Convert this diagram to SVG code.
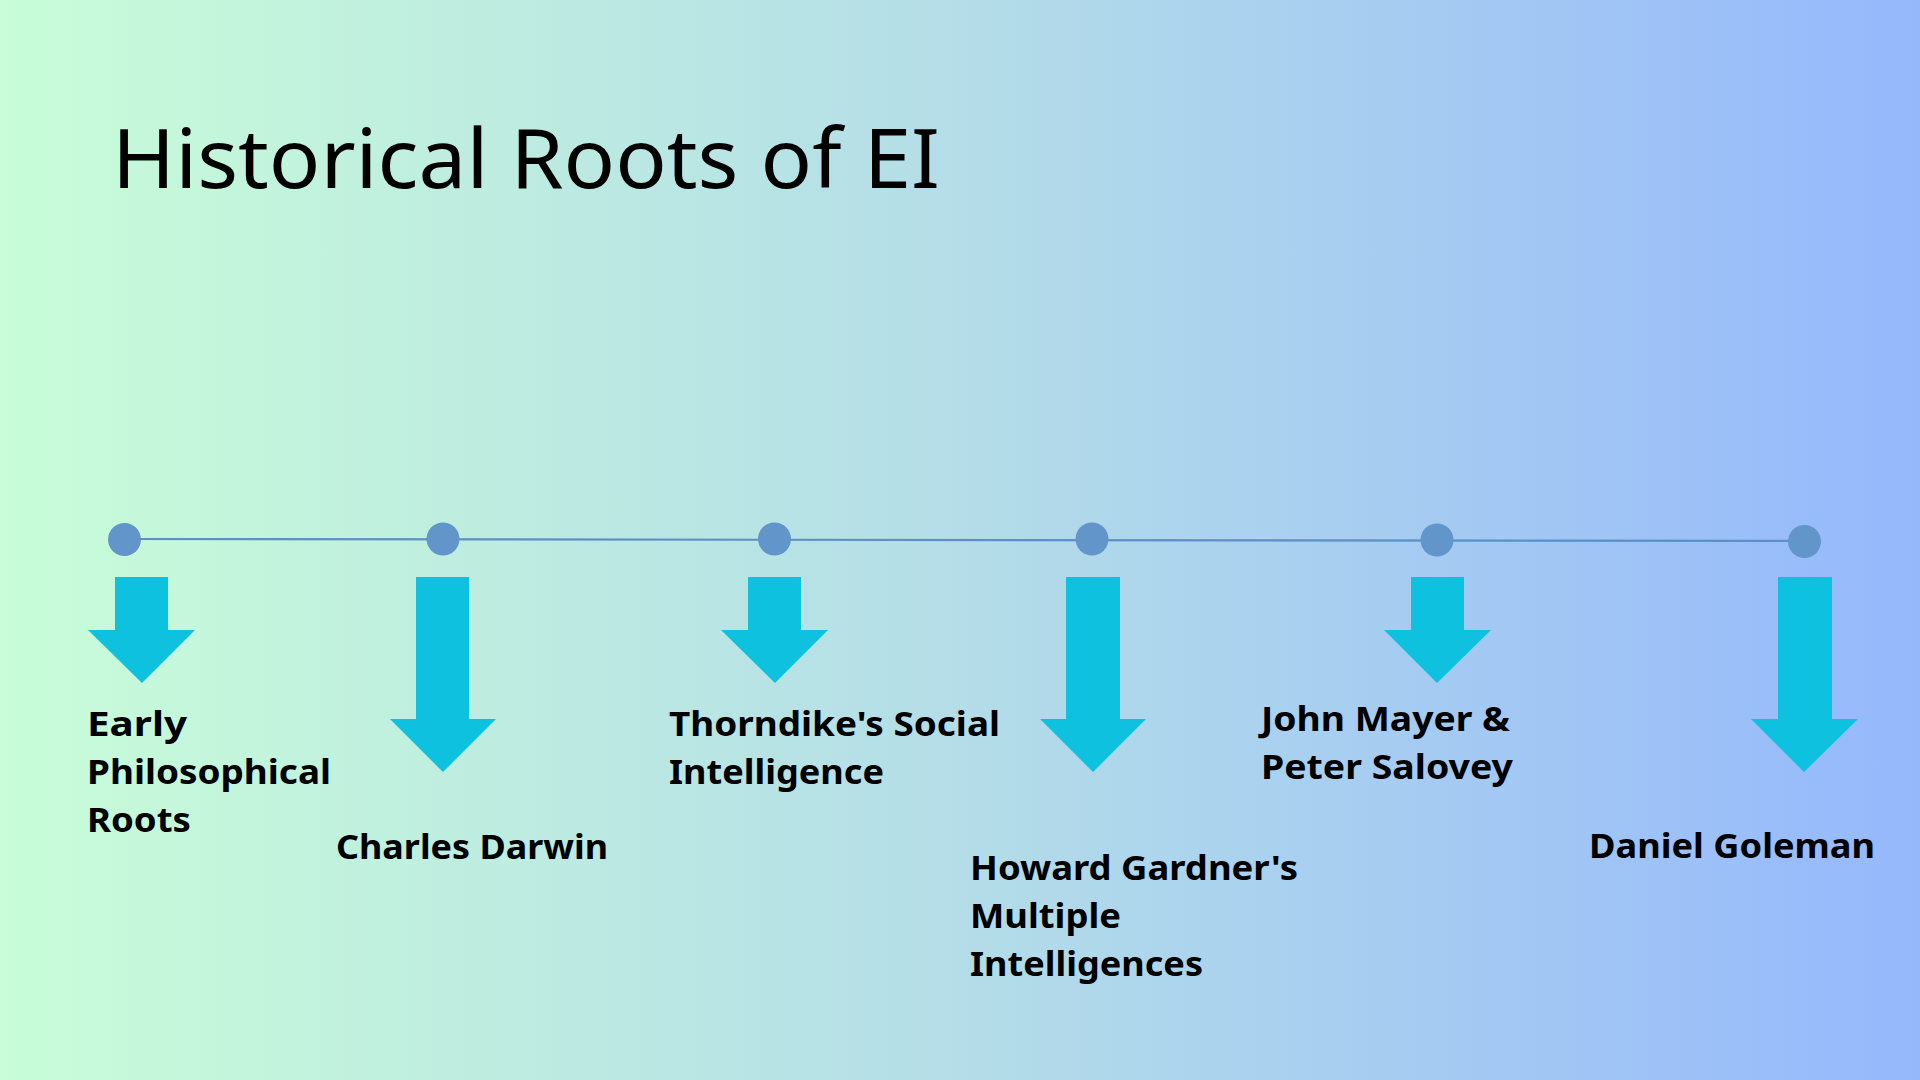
<svg xmlns="http://www.w3.org/2000/svg" width="1920" height="1080" viewBox="0 0 1920 1080">
<defs>
<linearGradient id="bg" x1="0" y1="0" x2="1" y2="0">
<stop offset="0" stop-color="#c8fdd8"/>
<stop offset="0.5" stop-color="#b4dde8"/>
<stop offset="1" stop-color="#95b8fc"/>
</linearGradient>
<style>
.dot{fill:#6295c9}
.arrow{fill:#0dc1df}
.lbl{font-family:"Noto Sans","Liberation Sans",sans-serif;font-weight:700;font-size:34px;fill:#000}
.title{font-family:"Noto Sans","Liberation Sans",sans-serif;font-weight:400;font-size:82px;fill:#000}
</style>
</defs>
<rect width="1920" height="1080" fill="url(#bg)"/>
<text class="title" x="112" y="188" textLength="828" lengthAdjust="spacingAndGlyphs">Historical Roots of EI</text>
<g id="connectors">
<line x1="124" y1="539" x2="1804" y2="541" stroke="#5d8fc6" stroke-width="2.2"/>
</g>
<g id="node1">
<circle class="dot" cx="124.5" cy="539.5" r="16.5"/>
<polygon class="arrow" points="115,577 168,577 168,630 195,630 142,683 88,630 115,630"/>
<text class="lbl" x="87" y="736" textLength="100" lengthAdjust="spacingAndGlyphs">Early</text>
<text class="lbl" x="87" y="784" textLength="244" lengthAdjust="spacingAndGlyphs">Philosophical</text>
<text class="lbl" x="87" y="832" textLength="104" lengthAdjust="spacingAndGlyphs">Roots</text>
</g>
<g id="node2">
<circle class="dot" cx="443" cy="539" r="16.5"/>
<polygon class="arrow" points="416,577 469,577 469,719 496,719 443,772 390,719 416,719"/>
<text class="lbl" x="336" y="859" textLength="272" lengthAdjust="spacingAndGlyphs">Charles Darwin</text>
</g>
<g id="node3">
<circle class="dot" cx="774.5" cy="539" r="16.5"/>
<polygon class="arrow" points="748,577 801,577 801,630 828,630 775,683 721,630 748,630"/>
<text class="lbl" x="669" y="736" textLength="331" lengthAdjust="spacingAndGlyphs">Thorndike's Social</text>
<text class="lbl" x="669" y="784" textLength="215" lengthAdjust="spacingAndGlyphs">Intelligence</text>
</g>
<g id="node4">
<circle class="dot" cx="1092" cy="539" r="16.5"/>
<polygon class="arrow" points="1066,577 1120,577 1120,719 1146,719 1093,772 1040,719 1066,719"/>
<text class="lbl" x="970" y="880" textLength="328" lengthAdjust="spacingAndGlyphs">Howard Gardner's</text>
<text class="lbl" x="970" y="928" textLength="151" lengthAdjust="spacingAndGlyphs">Multiple</text>
<text class="lbl" x="970" y="976" textLength="233" lengthAdjust="spacingAndGlyphs">Intelligences</text>
</g>
<g id="node5">
<circle class="dot" cx="1437" cy="540" r="16.5"/>
<polygon class="arrow" points="1411,577 1464,577 1464,630 1491,630 1437,683 1384,630 1411,630"/>
<text class="lbl" x="1261" y="731" textLength="249" lengthAdjust="spacingAndGlyphs">John Mayer &amp;</text>
<text class="lbl" x="1261" y="779" textLength="252" lengthAdjust="spacingAndGlyphs">Peter Salovey</text>
</g>
<g id="node6">
<circle class="dot" cx="1804.5" cy="541.5" r="16.5"/>
<polygon class="arrow" points="1778,577 1832,577 1832,719 1858,719 1804,772 1751,719 1778,719"/>
<text class="lbl" x="1589" y="858" textLength="286" lengthAdjust="spacingAndGlyphs">Daniel Goleman</text>
</g>
</svg>
